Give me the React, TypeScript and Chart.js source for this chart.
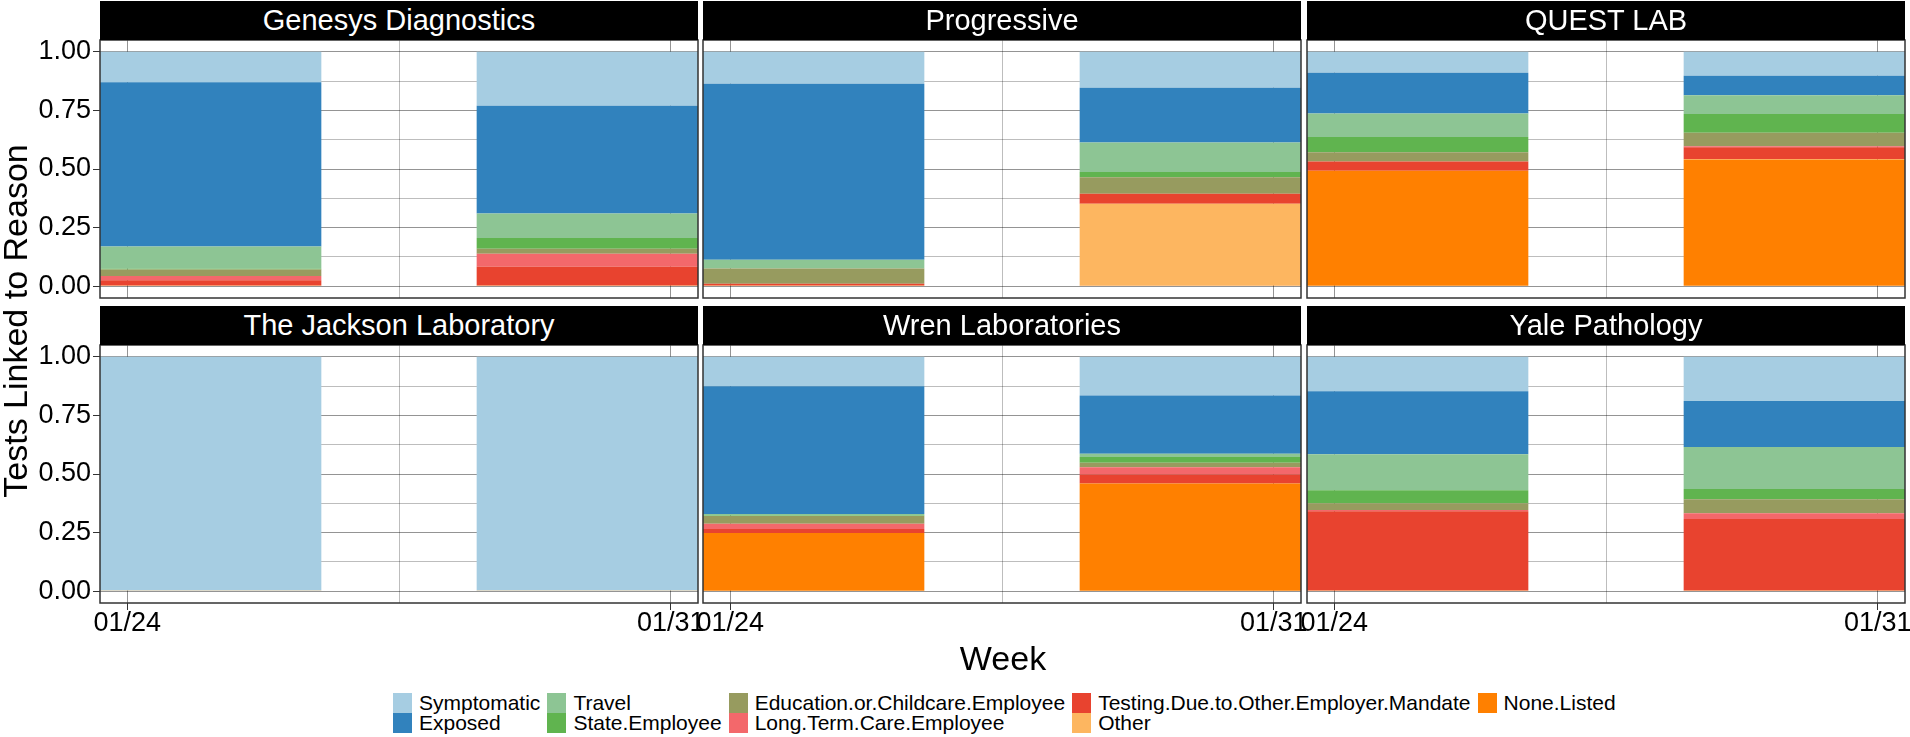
import React, { useEffect, useRef } from 'react';
import { Chart, registerables } from 'chart.js';

Chart.register(...registerables);

// ---------- data ----------
const labs = ['Genesys Diagnostics', 'Progressive', 'QUEST LAB', 'The Jackson Laboratory', 'Wren Laboratories', 'Yale Pathology'];
const weekDays = [0, 7]; // days after 01/24
const weekLabels = ['01/24', '01/31'];
const reasons = ['Symptomatic', 'Exposed', 'Travel', 'State.Employee', 'Education.or.Childcare.Employee', 'Long.Term.Care.Employee', 'Testing.Due.to.Other.Employer.Mandate', 'Other', 'None.Listed'];
const reasonColors = ['#a6cde2', '#3182bd', '#8dc594', '#60b44f', '#979b5f', '#f3686b', '#e8432f', '#fdb660', '#ff8000'];

// values per lab and week: [G 01/24, G 01/31, P .., P .., Q .., Q .., J .., J .., W .., W .., Y .., Y ..]
const symptomatic = [0.13, 0.23, 0.137, 0.154, 0.09, 0.102, 0.997, 0.997, 0.126, 0.165, 0.147, 0.189];
const exposed = [0.70, 0.46, 0.75, 0.233, 0.173, 0.084, 0, 0, 0.545, 0.249, 0.269, 0.196];
const travel = [0.095, 0.104, 0.037, 0.126, 0.101, 0.08, 0, 0, 0.006, 0.013, 0.153, 0.179];
const stateEmployee = [0.003, 0.046, 0, 0.022, 0.065, 0.079, 0, 0, 0.002, 0.025, 0.056, 0.044];
const education = [0.028, 0.021, 0.065, 0.071, 0.039, 0.058, 0, 0, 0.033, 0.019, 0.028, 0.059];
const longTermCare = [0.018, 0.056, 0, 0, 0, 0.004, 0, 0, 0.023, 0.031, 0.006, 0.025];
const employerMandate = [0.023, 0.08, 0.008, 0.042, 0.039, 0.05, 0, 0, 0.017, 0.039, 0.338, 0.305];
const other = [0, 0, 0, 0.349, 0, 0.003, 0.003, 0.003, 0, 0, 0, 0];
const noneListed = [0.003, 0.003, 0.003, 0.003, 0.493, 0.54, 0, 0, 0.248, 0.459, 0.003, 0.003];
const reasonValues = [symptomatic, exposed, travel, stateEmployee, education, longTermCare, employerMandate, other, noneListed];

const yTickValues = [0, 0.25, 0.5, 0.75, 1];
const yTickLabels = ['0.00', '0.25', '0.50', '0.75', '1.00'];
const yGridValues = [0, 0.125, 0.25, 0.375, 0.5, 0.625, 0.75, 0.875, 1];
const xGridValues = [0, 3.5, 7];

// ---------- layout ----------
const FONT = "'Liberation Sans', Arial, Helvetica, sans-serif";
const P = 24;
const COL_LEFT = [100, 703, 1307];
const PANEL_W = 598;
const STRIP_TOP = [1, 306];
const STRIP_H = 39;
const PLOT_TOP = [40, 345];
const PLOT_H = 258;
const Y_AXIS_W = 100;
const X_AXIS_H = 40;
const MAJOR = 'rgba(0,0,0,0.42)';
const MINOR = 'rgba(0,0,0,0.26)';

function box(i: number) {
  const r = Math.floor(i / 3);
  const c = i % 3;
  const yw = c === 0 ? Y_AXIS_W : 0;
  const xh = r === 1 ? X_AXIS_H : 0;
  return {
    r, c, yw, xh,
    left: COL_LEFT[c] - yw - P,
    top: PLOT_TOP[r] - P,
    width: P + yw + PANEL_W + P,
    height: P + PLOT_H + xh + P,
  };
}

const borderPlugin = {
  id: 'panelBorder',
  afterDatasetsDraw(chart: any) {
    const { ctx, chartArea: a } = chart;
    ctx.save();
    ctx.strokeStyle = '#333';
    ctx.lineWidth = 1.5;
    ctx.strokeRect(a.left, a.top, a.right - a.left, a.bottom - a.top);
    ctx.restore();
  },
};

const isMajorY = (v: number) => yTickValues.some((t) => Math.abs(t - v) < 1e-9);
const isMajorX = (v: number) => weekDays.some((t) => Math.abs(t - v) < 1e-9);

function Panel({ index }: { index: number }) {
  const ref = useRef<HTMLCanvasElement | null>(null);
  const b = box(index);
  useEffect(() => {
    if (!ref.current) return;
    const datasets = reasons
      .map((name, k) => ({
        label: name,
        data: weekDays.map((d, w) => ({ x: d, y: reasonValues[k][index * 2 + w] || null })),
        backgroundColor: reasonColors[k],
        borderWidth: 0,
        categoryPercentage: 5 / 3.5,
        barPercentage: 1,
        clip: 0,
      }))
      .reverse();
    const chart = new Chart(ref.current, {
      type: 'bar',
      data: { datasets } as any,
      plugins: [borderPlugin],
      options: {
        animation: false,
        responsive: false,
        devicePixelRatio: 1,
        layout: { padding: P },
        plugins: { legend: { display: false }, tooltip: { enabled: false } },
        scales: {
          x: {
            type: 'linear',
            min: -0.35,
            max: 7.35,
            bounds: 'data',
            offset: false,
            stacked: true,
            afterBuildTicks: (s: any) => { s.ticks = xGridValues.map((v) => ({ value: v })); },
            afterFit: (s: any) => { s.height = b.xh; },
            grid: {
              offset: false,
              lineWidth: 1,
              color: (ctx: any) => (isMajorX(ctx.tick.value) ? MAJOR : MINOR),
              drawTicks: b.r === 1,
              tickLength: 7,
              tickColor: (ctx: any) => (isMajorX(ctx.tick.value) ? '#333' : 'rgba(0,0,0,0)'),
            },
            border: { display: false },
            ticks: {
              display: b.r === 1,
              autoSkip: false,
              maxRotation: 0,
              padding: 0,
              color: '#000',
              font: { family: FONT, size: 27, lineHeight: 1 },
              callback: (v: any) => {
                const k = weekDays.indexOf(Number(v));
                return k >= 0 ? weekLabels[k] : '';
              },
            },
          },
          y: {
            type: 'linear',
            min: -0.05,
            max: 1.05,
            bounds: 'data',
            stacked: true,
            afterBuildTicks: (s: any) => { s.ticks = yGridValues.map((v) => ({ value: v })); },
            afterFit: (s: any) => { s.width = b.yw; },
            grid: {
              lineWidth: 1,
              color: (ctx: any) => (isMajorY(ctx.tick.value) ? MAJOR : MINOR),
              drawTicks: b.c === 0,
              tickLength: 7,
              tickColor: (ctx: any) => (isMajorY(ctx.tick.value) ? '#333' : 'rgba(0,0,0,0)'),
            },
            border: { display: false },
            ticks: {
              display: b.c === 0,
              autoSkip: false,
              padding: 2,
              color: '#000',
              font: { family: FONT, size: 27 },
              callback: (v: any) => {
                const k = yTickValues.findIndex((t) => Math.abs(t - Number(v)) < 1e-9);
                return k >= 0 ? yTickLabels[k] : '';
              },
            },
          },
        },
      } as any,
    });
    return () => chart.destroy();
  }, [index]);
  return (
    <canvas
      ref={ref}
      width={b.width}
      height={b.height}
      style={{ position: 'absolute', left: b.left, top: b.top, width: b.width, height: b.height }}
    />
  );
}

export default function App() {
  const legendCols = [[0, 1], [2, 3], [4, 5], [6, 7], [8]];
  return (
    <div style={{ position: 'absolute', left: 0, top: 0, width: 1910, height: 737, background: '#fff', overflow: 'hidden', fontFamily: FONT, color: '#000' }}>
      {labs.map((_, i) => <Panel key={i} index={i} />)}
      {labs.map((name, i) => {
        const r = Math.floor(i / 3), c = i % 3;
        return (
          <div key={'s' + i} style={{ position: 'absolute', left: COL_LEFT[c], top: STRIP_TOP[r], width: PANEL_W, height: STRIP_H, background: '#000', color: '#fff', fontSize: 29, display: 'flex', alignItems: 'center', justifyContent: 'center', lineHeight: 1 }}>
            {name}
          </div>
        );
      })}
      <div style={{ position: 'absolute', left: 15 - 250, top: 321 - 20, width: 500, height: 40, lineHeight: '40px', textAlign: 'center', fontSize: 34, transform: 'rotate(-90deg)', whiteSpace: 'nowrap' }}>
        Tests Linked to Reason
      </div>
      <div style={{ position: 'absolute', left: 1003 - 150, top: 658 - 20, width: 300, height: 40, lineHeight: '40px', textAlign: 'center', fontSize: 34 }}>
        Week
      </div>
      <div style={{ position: 'absolute', left: 393, top: 693, display: 'flex', gap: 7, fontSize: 21 }}>
        {legendCols.map((col, ci) => (
          <div key={ci} style={{ display: 'flex', flexDirection: 'column' }}>
            {col.map((k) => (
              <div key={k} style={{ display: 'flex', alignItems: 'center', height: 20 }}>
                <div style={{ width: 19, height: 20, background: reasonColors[k], marginRight: 7 }} />
                <span style={{ whiteSpace: 'nowrap', lineHeight: '20px' }}>{reasons[k]}</span>
              </div>
            ))}
          </div>
        ))}
      </div>
    </div>
  );
}
